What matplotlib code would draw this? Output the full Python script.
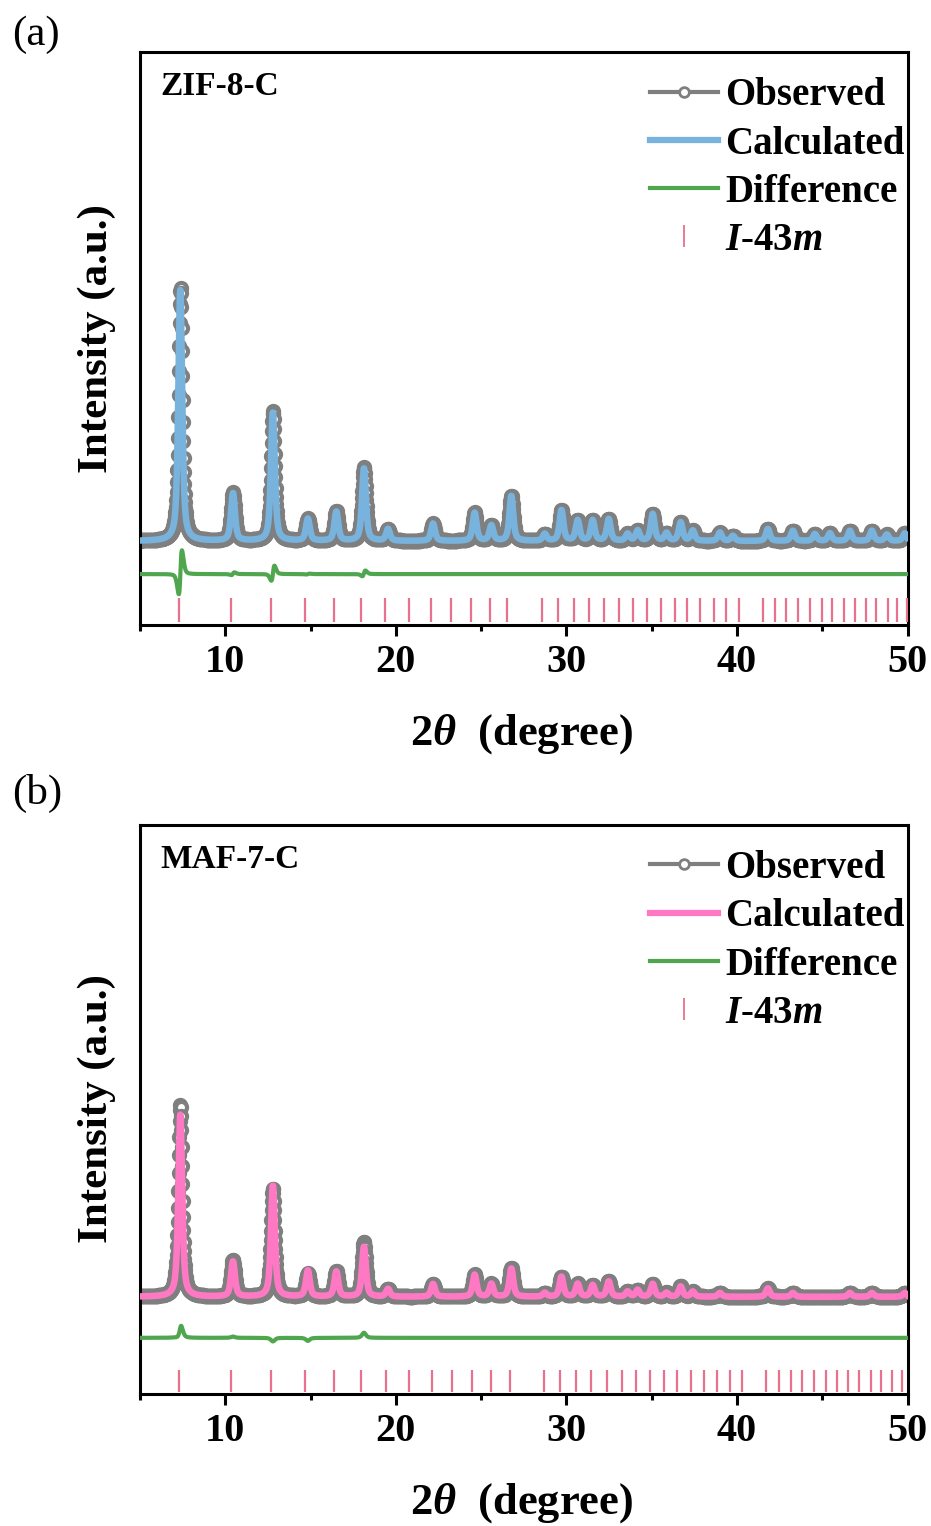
import numpy as np
import matplotlib
matplotlib.use("Agg")
import matplotlib.pyplot as plt
from matplotlib.lines import Line2D
from matplotlib.ticker import MultipleLocator

plt.rcParams['font.family'] = 'Liberation Serif'
plt.rcParams['font.weight'] = 'bold'
plt.rcParams['mathtext.fontset'] = 'custom'
plt.rcParams['mathtext.rm'] = 'Liberation Serif:bold'
plt.rcParams['mathtext.it'] = 'Liberation Serif:italic:bold'
plt.rcParams['mathtext.bf'] = 'Liberation Serif:bold'
plt.rcParams['mathtext.sf'] = 'Liberation Serif:italic'

two_theta = np.arange(5.0, 50.001, 0.02)

# ZIF-8-C refinement: peak centres, calculated / observed heights, small obs shifts
zif_pos = [7.36, 10.45, 12.79, 14.84, 16.51, 18.13, 19.54, 22.18, 24.62, 25.60,
           26.77, 28.73, 29.71, 30.66, 31.54, 32.48, 33.59, 34.18, 35.06, 35.87,
           36.70, 37.41, 39.00, 39.76, 41.81, 43.28, 44.57, 45.45, 46.62, 47.91,
           48.79, 49.84]
zif_calc = [98, 18.6, 50.3, 8.6, 11.4, 28.4, 4.6, 6.8, 11.0, 6.0,
            17.6, 2.7, 12.0, 8.0, 8.0, 8.5, 2.7, 4.0, 10.5, 3.0,
            7.2, 4.0, 3.3, 2.0, 4.7, 4.0, 2.7, 3.0, 4.0, 4.0,
            2.5, 3.0]
zif_obs = [99, 18.8, 50.8, 8.6, 11.4, 28.8, 4.6, 6.8, 11.0, 6.0,
           17.6, 2.7, 12.0, 8.0, 8.0, 8.5, 2.7, 4.0, 10.5, 3.0,
           7.2, 4.0, 3.3, 2.0, 4.7, 4.0, 2.7, 3.0, 4.0, 4.0,
           2.5, 3.0]
zif_shift = [0.018, 0.006, 0.012, 0.004, 0.0, 0.008, 0.0, 0.0, 0.0, 0.0,
             0.0, 0.0, 0.0, 0.0, 0.0, 0.0, 0.0, 0.0, 0.0, 0.0,
             0.0, 0.0, 0.0, 0.0, 0.0, 0.0, 0.0, 0.0, 0.0, 0.0,
             0.0, 0.0]
zif_hkl = [7.28, 10.35, 12.70, 14.65, 16.37, 17.94, 19.38, 20.77, 22.04, 23.26,
           24.43, 25.50, 26.54, 28.59, 29.51, 30.43, 31.33, 32.21, 33.08, 33.91,
           34.73, 35.57, 36.35, 37.07, 37.86, 38.64, 39.38, 40.12, 41.53, 42.22,
           42.90, 43.58, 44.27, 44.96, 45.60, 46.26, 46.91, 47.55, 48.18, 48.83,
           49.41, 49.98]

# MAF-7-C refinement
maf_pos = [7.36, 10.45, 12.79, 14.84, 16.51, 18.13, 19.54, 22.18, 24.62, 25.60,
           26.77, 28.73, 29.71, 30.66, 31.54, 32.48, 33.59, 34.18, 35.06, 35.87,
           36.70, 37.41, 39.00, 41.81, 43.28, 46.62, 47.91, 49.84]
maf_calc = [71.0, 13.7, 43.4, 10.2, 9.8, 19.5, 3.0, 5.0, 8.6, 5.0,
            11.0, 1.5, 7.8, 5.0, 4.5, 6.0, 2.0, 2.6, 5.0, 1.5,
            4.0, 2.0, 1.5, 3.3, 1.5, 1.5, 1.5, 1.5]
maf_obs = [75.0, 14.2, 42.0, 9.0, 9.8, 21.5, 3.0, 5.0, 8.6, 5.0,
           11.0, 1.5, 7.8, 5.0, 4.5, 6.0, 2.0, 2.6, 5.0, 1.5,
           4.0, 2.0, 1.5, 3.3, 1.5, 1.5, 1.5, 1.5]
maf_shift = [0.004, 0.0, 0.0, 0.0, 0.0, 0.0, 0.0, 0.0, 0.0, 0.0,
             0.0, 0.0, 0.0, 0.0, 0.0, 0.0, 0.0, 0.0, 0.0, 0.0,
             0.0, 0.0, 0.0, 0.0, 0.0, 0.0, 0.0, 0.0]
maf_hkl = [7.28, 10.35, 12.70, 14.65, 16.37, 17.98, 19.44, 20.77, 22.12, 23.29,
           24.46, 25.56, 26.67, 28.67, 29.65, 30.59, 31.47, 32.35, 33.23, 34.06,
           34.88, 35.72, 36.51, 37.29, 38.05, 38.83, 39.58, 40.32, 41.73, 42.45,
           43.14, 43.82, 44.52, 45.21, 45.87, 46.52, 47.16, 47.83, 48.43, 49.06,
           49.65]

gray = '#7f7f7f'
green = '#4fa64f'
tick_color = '#e8718e'


def profile(pos, height, shift=None, fwhm=0.27, eta=0.6):
    # pseudo-Voigt peaks summed on the 2theta grid
    y = np.zeros_like(two_theta)
    if shift is None:
        shift = [0.0] * len(pos)
    for p, h, s in zip(pos, height, shift):
        d = (two_theta - p - s) / fwhm
        y += h * (eta / (1 + 4 * d ** 2) + (1 - eta) * np.exp(-4 * np.log(2) * d ** 2))
    return y


def draw_panel(ax, name, pos, calc_h, obs_h, shift, hkl, calc_color,
               diff_off, tick_lo, tick_hi, ylim):
    calc = profile(pos, calc_h)
    obs = profile(pos, obs_h, shift)

    ax.plot(two_theta, obs, color=gray, lw=2, marker='o', ms=8,
            mfc='white', mec=gray, mew=3, zorder=2)
    ax.plot(two_theta, calc, color=calc_color, lw=4.7, zorder=3)
    ax.plot(two_theta, obs - calc + diff_off, color=green, lw=3, zorder=3)
    ax.vlines(hkl, tick_lo, tick_hi, color=tick_color, lw=1.6, zorder=3)

    ax.set_xlim(5, 50)
    ax.set_ylim(*ylim)
    ax.set_yticks([])
    ax.xaxis.set_major_locator(MultipleLocator(10))
    ax.xaxis.set_minor_locator(MultipleLocator(5))
    ax.tick_params(axis='x', which='major', direction='out', length=8, width=2.2,
                   labelsize=29, pad=6)
    ax.tick_params(axis='x', which='minor', direction='out', length=4.5, width=2.2)
    for sp in ax.spines.values():
        sp.set_linewidth(2.2)

    ax.text(0.026, 0.94, name, transform=ax.transAxes, fontsize=24,
            fontweight='bold', ha='left', va='center')

    handles = [
        Line2D([], [], color=gray, lw=3, marker='o', ms=7, mfc='white', mec=gray, mew=2),
        Line2D([], [], color=calc_color, lw=4.5),
        Line2D([], [], color=green, lw=3),
        Line2D([], [], color=tick_color, ls='none', marker='|', ms=16, mew=1.3),
    ]
    labels = ['Observed', 'Calculated', 'Difference', r'$I$-43$m$']
    ax.legend(handles, labels, loc='upper left', bbox_to_anchor=(0.664, 0.956),
              frameon=False, borderpad=0, borderaxespad=0, handlelength=1.75,
              handletextpad=0.2, labelspacing=0.29,
              prop={'family': 'Liberation Serif', 'weight': 'bold', 'size': 28})


fig = plt.figure(figsize=(9.31, 15.26), dpi=100)
ax_a = fig.add_axes([0.1504, 0.5904, 0.8244, 0.3755])
ax_b = fig.add_axes([0.1504, 0.0865, 0.8244, 0.3729])

blue = '#78b3de'
pink = '#ff78c4'

draw_panel(ax_a, 'ZIF-8-C', zif_pos, zif_calc, zif_obs, zif_shift, zif_hkl, blue,
           -12.9, -22.3, -31.6, (-32.8, 191))
draw_panel(ax_b, 'MAF-7-C', maf_pos, maf_calc, maf_obs, maf_shift, maf_hkl, pink,
           -16.0, -28.5, -37.1, (-37.9, 184))

xlab = r'2$\mathsf{\theta}$  (degree)'
fig.text(522 / 931, 1 - 734 / 1526, xlab, fontsize=32, fontweight='bold',
         ha='center', va='center')
fig.text(522 / 931, 1 - 1503 / 1526, xlab, fontsize=32, fontweight='bold',
         ha='center', va='center')
fig.text(97 / 931, 1 - 339 / 1526, 'Intensity (a.u.)', fontsize=31,
         fontweight='bold', rotation=90, ha='center', va='center')
fig.text(97 / 931, 1 - 1109 / 1526, 'Intensity (a.u.)', fontsize=31,
         fontweight='bold', rotation=90, ha='center', va='center')

fig.text(12 / 931, 1 - 35 / 1526, '(a)', fontsize=31, fontweight='normal',
         ha='left', va='center')
fig.text(12 / 931, 1 - 793 / 1526, '(b)', fontsize=31, fontweight='normal',
         ha='left', va='center')

fig.savefig('out.png', dpi=100)
